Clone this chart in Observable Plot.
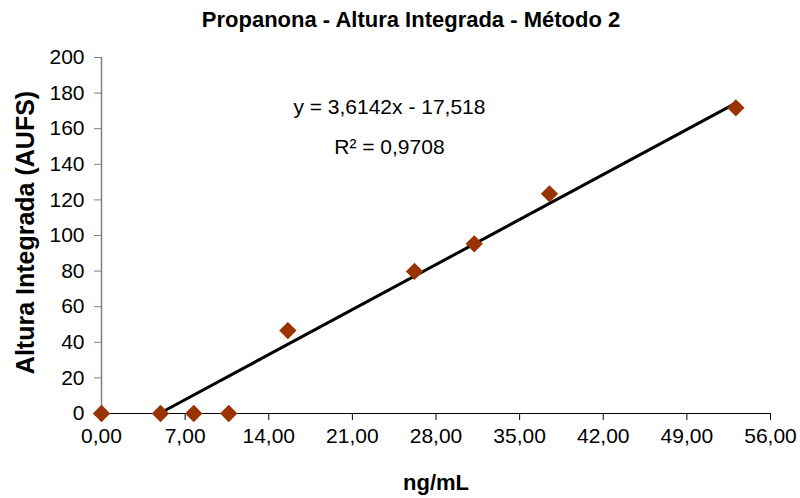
<!DOCTYPE html>
<html>
<head>
<meta charset="utf-8">
<script src="https://cdn.jsdelivr.net/npm/d3@7"></script>
<script src="https://cdn.jsdelivr.net/npm/@observablehq/plot@0.6"></script>
<style>
  html, body { margin: 0; padding: 0; background: #fff; }
  #wrap { width: 800px; height: 498px; position: relative; overflow: hidden; }
  #title { position: absolute; left: 0; top: 0; width: 822px; height: 40px; line-height: 40px; text-align: center;
    font-family: "Liberation Sans", Arial, sans-serif; font-weight: bold; font-size: 22px; color: #000; }
  #chart { position: absolute; left: 0; top: 40px; }
</style>
</head>
<body>
<div id="wrap">
  <div id="title">Propanona - Altura Integrada - Método 2</div>
  <div id="chart"></div>
</div>
<script>
const conc = [0, 4.94, 7.72, 10.65, 15.6, 26.2, 31.2, 37.5, 53.1];
const altura = [0, 0, 0, 0, 46.6, 79.8, 95.3, 123.4, 171.7];
const slope = 3.6142;
const intercept = -17.518;
const xTicks = [0, 7, 14, 21, 28, 35, 42, 49, 56];
const yTicks = [0, 20, 40, 60, 80, 100, 120, 140, 160, 180, 200];
const eqLabel = "y = 3,6142x - 17,518";
const r2Label = "R² = 0,9708";

const points = conc.map((c, i) => ({x: c, y: altura[i]}));
const xStart = -intercept / slope;
const xEnd = d3.max(conc);
const trend = [xStart, xEnd].map(x => ({x, y: slope * x + intercept}));

const font = "'Liberation Sans', Arial, sans-serif";
const fs = 21;
const chart = Plot.plot({
  width: 800,
  height: 458,
  marginLeft: 101,
  marginRight: 30,
  marginTop: 17,
  marginBottom: 85,
  style: {fontFamily: font, fontSize: fs + "px", color: "#000", background: "#fff"},
  x: {domain: [0, 56]},
  y: {domain: [0, 200]},
  marks: [
    Plot.ruleX([0], {stroke: "#808080", strokeWidth: 1.5}),
    Plot.ruleY([0], {stroke: "#000", strokeWidth: 1.2}),
    Plot.axisX({ticks: xTicks, tickSize: 7, tickPadding: 8, stroke: "#000",
      tickFormat: d => d.toFixed(2).replace(".", ","), label: null, fontSize: fs}),
    Plot.axisY({ticks: yTicks, tickSize: 7, tickPadding: 10, stroke: "#808080",
      tickFormat: d => String(d), label: null, fontSize: fs}),
    Plot.line(trend, {x: "x", y: "y", stroke: "#000", strokeWidth: 3}),
    Plot.dot(points, {x: "x", y: "y", symbol: "diamond2", r: 7.8, fill: "#993300", stroke: "none"}),
    Plot.text([eqLabel], {x: 24.1, y: 172, fontSize: fs, fill: "#000"}),
    Plot.text([r2Label], {x: 24.1, y: 149.5, fontSize: fs, fill: "#000"}),
    Plot.text(["ng/mL"], {frameAnchor: "bottom", dy: 76, fontSize: 22, fontWeight: "bold", fill: "#000"}),
    Plot.text(["Altura Integrada (AUFS)"], {frameAnchor: "left", dx: -76, dy: -3, rotate: -90, textAnchor: "middle",
      fontSize: 25, fontWeight: "bold", fill: "#000"})
  ]
});
document.getElementById("chart").appendChild(chart);
</script>
</body>
</html>
